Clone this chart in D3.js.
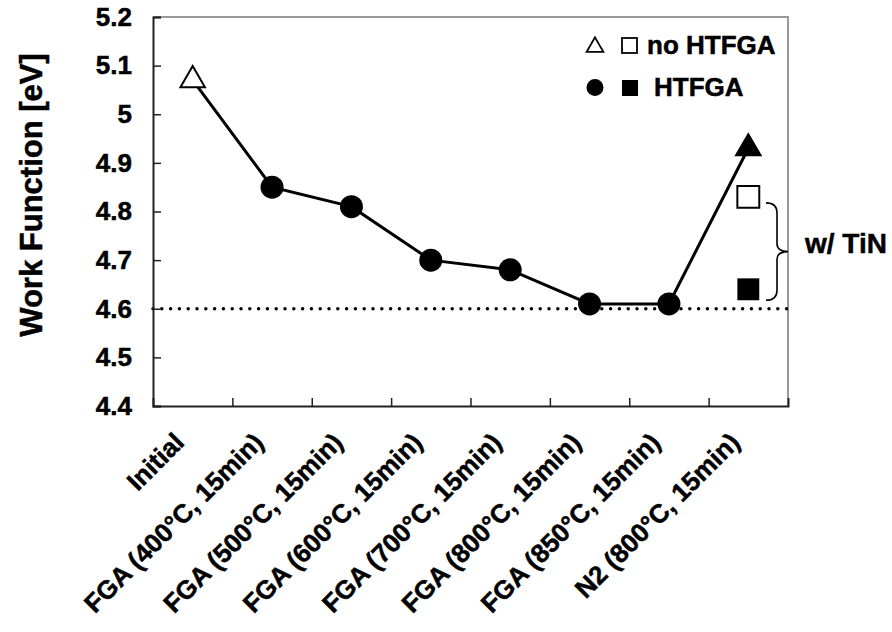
<!DOCTYPE html>
<html>
<head>
<meta charset="utf-8">
<script src="https://cdn.jsdelivr.net/npm/d3@7"></script>
<style>
    body { margin: 0; background: #fff; }
    svg text { font-family: "Liberation Sans", Arial, sans-serif; font-weight: bold; fill: #000; stroke: #000; stroke-width: 0.5px; }
</style>
</head>
<body>
<div id="chart"></div>
<script>
const categories = [
    "Initial",
    "FGA (400°C, 15min)",
    "FGA (500°C, 15min)",
    "FGA (600°C, 15min)",
    "FGA (700°C, 15min)",
    "FGA (800°C, 15min)",
    "FGA (850°C, 15min)",
    "N2 (800°C, 15min)"
];
const workFunction = [5.07, 4.85, 4.81, 4.70, 4.68, 4.61, 4.61, 4.93];
const markerKind = ["openTriangle", "circle", "circle", "circle", "circle", "circle", "circle", "fillTriangle"];
const tinCategory = "N2 (800°C, 15min)";
const tinNoHTFGA = 4.83;
const tinHTFGA = 4.64;
const yTicks = [4.4, 4.5, 4.6, 4.7, 4.8, 4.9, 5.0, 5.1, 5.2];
const refLevel = 4.6;

const width = 892, height = 632;
const plotLeft = 153, plotRight = 788, plotTop = 17, plotBottom = 406;

const svg = d3.select("#chart").append("svg")
    .attr("width", width)
    .attr("height", height);

const x = d3.scaleBand().domain(categories).range([plotLeft, plotRight]);
const y = d3.scaleLinear().domain([4.4, 5.2]).range([plotBottom, plotTop]);
const xEdge = d3.scaleLinear().domain([0, categories.length]).range([plotLeft, plotRight]);

// light frame on top and right
svg.append("path")
    .attr("d", `M${plotLeft},${plotTop}H${plotRight}V${plotBottom}`)
    .attr("fill", "none")
    .attr("stroke", "#999")
    .attr("stroke-width", 2);

// dotted reference line
svg.append("line")
    .attr("x1", plotLeft).attr("x2", plotRight)
    .attr("y1", y(refLevel)).attr("y2", y(refLevel))
    .attr("stroke", "#000")
    .attr("stroke-width", 3.5)
    .attr("stroke-linecap", "round")
    .attr("stroke-dasharray", "0 8.8");

// y axis
const yAxis = svg.append("g")
    .attr("transform", `translate(${plotLeft},0)`)
    .call(d3.axisLeft(y).tickValues(yTicks).tickSize(-8).tickPadding(21)
        .tickFormat(d => String(+d.toFixed(1))));
yAxis.select(".domain").attr("stroke", "#222").attr("stroke-width", 2);
yAxis.selectAll(".tick line").attr("stroke", "#222").attr("stroke-width", 1.5);
yAxis.selectAll(".tick text").style("font-size", "26px");

// x axis: ticks between categories
const xAxis = svg.append("g")
    .attr("transform", `translate(0,${plotBottom})`)
    .call(d3.axisBottom(xEdge).tickValues(d3.range(1, categories.length)).tickSize(-8).tickFormat(""));
xAxis.select(".domain").attr("stroke", "#222").attr("stroke-width", 2);
xAxis.selectAll(".tick line").attr("stroke", "#222").attr("stroke-width", 1.5);

// category labels
svg.append("g").selectAll("text")
    .data(categories)
    .join("text")
    .attr("transform", d => `translate(${x(d) + x.bandwidth() / 2 - 7},${plotBottom + 38}) rotate(-45)`)
    .attr("text-anchor", "end")
    .style("font-size", "26px")
    .text(d => d);

// y label
svg.append("text")
    .attr("transform", `translate(42,195) rotate(-90)`)
    .attr("text-anchor", "middle")
    .style("font-size", "31px")
    .text("Work Function [eV]");

// line
const points = categories.map((c, i) => ({cat: c, v: workFunction[i], kind: markerKind[i]}));
const line = d3.line()
    .x(d => x(d.cat) + x.bandwidth() / 2)
    .y(d => y(d.v));
svg.append("path")
    .datum(points)
    .attr("d", line)
    .attr("fill", "none")
    .attr("stroke", "#000")
    .attr("stroke-width", 3);

const tri = d3.symbol().type(d3.symbolTriangle).size(260);
const sq = d3.symbol().type(d3.symbolSquare).size(480);

const marks = svg.append("g").selectAll("g")
    .data(points)
    .join("g")
    .attr("transform", d => `translate(${x(d.cat) + x.bandwidth() / 2},${y(d.v)})`);

marks.filter(d => d.kind === "circle").append("circle")
    .attr("r", 11.5)
    .attr("fill", "#000");
marks.filter(d => d.kind !== "circle").append("path")
    .attr("d", tri)
    .attr("fill", d => d.kind === "fillTriangle" ? "#000" : "#fff")
    .attr("stroke", "#000")
    .attr("stroke-width", 2);

// TiN squares
const tx = x(tinCategory) + x.bandwidth() / 2;
svg.append("path")
    .attr("d", sq)
    .attr("transform", `translate(${tx},${y(tinNoHTFGA)})`)
    .attr("fill", "#fff").attr("stroke", "#000").attr("stroke-width", 2);
svg.append("path")
    .attr("d", sq)
    .attr("transform", `translate(${tx},${y(tinHTFGA)})`)
    .attr("fill", "#000");

// brace
const bTop = y(tinNoHTFGA) + 6, bBot = y(tinHTFGA) + 11, bMid = (bTop + bBot) / 2;
const bx0 = 766, bx1 = 777, bx2 = 788;
svg.append("path")
    .attr("d", `M${bx0},${bTop} Q${bx1},${bTop} ${bx1},${bTop + 10} V${bMid - 8} Q${bx1},${bMid} ${bx2},${bMid}` +
        ` Q${bx1},${bMid} ${bx1},${bMid + 8} V${bBot - 10} Q${bx1},${bBot} ${bx0},${bBot}`)
    .attr("fill", "none")
    .attr("stroke", "#000")
    .attr("stroke-width", 1.6);
svg.append("text")
    .attr("x", 805).attr("y", 253)
    .style("font-size", "28px")
    .text("w/ TiN");

// legend
const legend = svg.append("g");
legend.append("path").attr("d", d3.symbol().type(d3.symbolTriangle).size(120))
    .attr("transform", "translate(595,47)")
    .attr("fill", "#fff").attr("stroke", "#000").attr("stroke-width", 1.8);
legend.append("rect").attr("x", 622).attr("y", 38).attr("width", 15).attr("height", 15)
    .attr("fill", "#fff").attr("stroke", "#000").attr("stroke-width", 1.8);
legend.append("text").attr("x", 647).attr("y", 54).style("font-size", "26px").text("no HTFGA");
legend.append("circle").attr("cx", 595).attr("cy", 87.5).attr("r", 8.5).attr("fill", "#000");
legend.append("rect").attr("x", 622).attr("y", 80).attr("width", 16).attr("height", 16).attr("fill", "#000");
legend.append("text").attr("x", 654).attr("y", 96).style("font-size", "26px").text("HTFGA");
</script>
</body>
</html>
